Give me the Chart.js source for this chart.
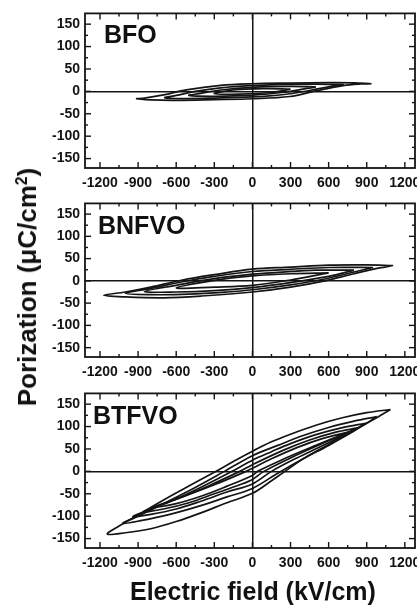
<!DOCTYPE html>
<html>
<head>
<meta charset="utf-8">
<title>P-E hysteresis loops</title>
<script src="https://cdn.jsdelivr.net/npm/chart.js@4.4.1/dist/chart.umd.min.js"></script>
<style>
  html, body { margin: 0; padding: 0; background: #fff; }
  body { width: 417px; height: 605px; position: relative; overflow: hidden;
         font-family: "Liberation Sans", Arial, sans-serif; color: #111; }
  canvas { position: absolute; left: 0; }
  .lbl { position: absolute; font-weight: bold; font-size: 25px; line-height: 1; white-space: nowrap; }
  #ytitle { font-size: 26px; left: 27px; top: 287px; transform: translate(-50%, -50%) rotate(-90deg); }
  #xtitle { left: 130px; top: 579px; }
  .sup { font-size: 0.6em; position: relative; top: -0.55em; }
</style>
</head>
<body>
<canvas id="c1" width="417" height="192" style="top:0px"></canvas>
<canvas id="c2" width="417" height="192" style="top:190px"></canvas>
<canvas id="c3" width="417" height="190" style="top:380px"></canvas>

<div class="lbl" style="left:104px;top:22px">BFO</div>
<div class="lbl" style="left:98px;top:213px">BNFVO</div>
<div class="lbl" style="left:93px;top:403px">BTFVO</div>
<div class="lbl" id="ytitle">Porization (μC/cm<span class="sup">2</span>)</div>
<div class="lbl" id="xtitle">Electric field (kV/cm)</div>

<script>
'use strict';

/* ---- axis ticks ---- */
const X_TICKS = [-1200, -900, -600, -300, 0, 300, 600, 900, 1200];
const X_MINOR = [-1050, -750, -450, -150, 150, 450, 750, 1050];
const Y_TICKS = [-150, -100, -50, 0, 50, 100, 150];
const Y_MINOR = [-125, -75, -25, 25, 75, 125];

/* ---- loops: [E (kV/cm), P (uC/cm2)] ---- */
// BFO
const bfo1 = [[938,17],[800,19],[600,19.5],[300,18.5],[0,17],[-250,13.5],[-520,3.5],[-700,-8],[-850,-15],[-911,-16.5],
              [-800,-19],[-620,-20],[-300,-18.5],[0,-16.5],[295,-11.5],[505,1.5],[715,13],[850,16.5],[938,17]];
const bfo2 = [[720,15],[500,16],[200,15],[0,13],[-250,8],[-450,0],[-600,-9],[-690,-14],
              [-550,-16],[-300,-15],[0,-12.5],[250,-7],[450,2],[600,10],[720,15]];
const bfo3 = [[500,10],[300,11],[0,9],[-250,3],[-420,-5],[-500,-9],
              [-300,-11],[0,-8.5],[250,-2],[420,6],[500,10]];
const bfo4 = [[300,5],[100,6],[-150,3],[-300,-5],[-100,-6],[150,-2],[300,5]];
// BNFVO
const bnf1 = [[1108,34.5],[900,36],[600,35.5],[300,31],[0,26.5],[-300,14],[-550,2],[-800,-14],[-1000,-25],[-1170,-32.3],
              [-1000,-36],[-700,-38],[-400,-34],[0,-25],[300,-14],[570,0],[800,16],[1000,29],[1108,34.5]];
const bnf2 = [[950,30],[600,30],[300,26],[0,21],[-300,10],[-550,-2],[-800,-17],[-1000,-28],
              [-800,-31],[-500,-30],[-200,-25],[0,-20],[300,-9],[550,3],[800,20],[950,30]];
const bnf3 = [[800,24],[500,24],[200,19],[0,15],[-300,5],[-600,-10],[-850,-24],
              [-600,-25],[-300,-22],[0,-15],[300,-4],[600,10],[800,24]];
const bnf4 = [[600,18],[300,16],[0,11],[-300,1],[-600,-16],[-300,-14],[0,-10],[300,2],[600,18]];
// BTFVO
const btf1 = [[1087,138],[900,131],[700,119],[500,103],[300,83],[150,66],[0,45],[-150,22],[-282,1],[-450,-25],[-675,-60],[-900,-97],[-1050,-122],[-1142,-140],
              [-1000,-137],[-800,-128],[-600,-112],[-400,-92],[-200,-70],[0,-49],[130,-25],[256,0],[400,28],[600,60],[800,92],[950,115],[1087,138]];
const btf2 = [[980,122],[800,112],[600,98],[400,80],[200,58],[0,35],[-220,0],[-450,-36],[-700,-72],[-900,-100],[-1020,-116],
              [-880,-110],[-650,-96],[-400,-76],[-200,-57],[0,-38],[200,-4],[400,28],[600,58],[800,90],[980,122]];
const btf3 = [[900,108],[700,97],[500,82],[300,62],[150,44],[0,25],[-160,0],[-400,-35],[-650,-68],[-850,-90],[-940,-101],
              [-800,-96],[-600,-84],[-400,-66],[-200,-46],[0,-28],[150,0],[350,30],[550,57],[750,85],[900,108]];
const btf4 = [[830,97],[650,87],[450,70],[250,48],[0,15],[-100,0],[-350,-33],[-600,-62],[-860,-90],
              [-700,-84],[-500,-70],[-300,-50],[-100,-30],[0,-18],[90,0],[300,30],[550,62],[830,97]];
const btf5 = [[760,88],[550,73],[350,53],[150,28],[0,7],[-50,0],[-300,-30],[-550,-57],[-780,-80],
              [-600,-72],[-400,-55],[-200,-33],[0,-9],[40,0],[250,28],[500,58],[760,88]];

const INK = '#141414';
const FONT = 'Liberation Sans, Arial, sans-serif';

/* ---- inward ticks + frame, placed through the chart's scales ---- */
const framePlugin = {
  id: 'frame',
  afterDraw(chart){
    const { ctx, chartArea: a, scales: { x, y } } = chart;
    ctx.save();
    ctx.strokeStyle = INK;
    ctx.lineWidth = 1.4;
    const seg = (x0, y0, x1, y1) => { ctx.beginPath(); ctx.moveTo(x0, y0); ctx.lineTo(x1, y1); ctx.stroke(); };
    const xt = (v, len) => { const p = x.getPixelForValue(v); seg(p, a.bottom, p, a.bottom - len); seg(p, a.top, p, a.top + len); };
    const yt = (v, len) => { const p = y.getPixelForValue(v); seg(a.left, p, a.left + len, p); seg(a.right, p, a.right - len, p); };
    X_TICKS.forEach(v => xt(v, 6)); X_MINOR.forEach(v => xt(v, 3));
    Y_TICKS.forEach(v => yt(v, 6)); Y_MINOR.forEach(v => yt(v, 3));
    ctx.lineWidth = 1.8;
    ctx.strokeRect(a.left, a.top, a.right - a.left, a.bottom - a.top);
    ctx.restore();
  }
};

function mkPanel(id, loops, padTop, xHeight){
  const zeroGrid = {
    drawTicks: false,
    lineWidth: 1.5,
    color: (c) => (c.tick && c.tick.value === 0) ? INK : 'rgba(0,0,0,0)',
  };
  const tickFont = { family: FONT, size: 14, weight: 'bold' };
  return new Chart(document.getElementById(id), {
    type: 'scatter',
    data: {
      datasets: loops.map(l => ({
        data: l.map(p => ({ x: p[0], y: p[1] })),
        showLine: true, borderColor: INK, borderWidth: 1.7,
        pointRadius: 0, tension: 0.35, fill: false,
      })),
    },
    options: {
      responsive: false, animation: false, events: [],
      layout: { padding: { top: padTop, right: 2, left: 0, bottom: 0 } },
      plugins: { legend: { display: false }, tooltip: { enabled: false } },
      scales: {
        x: {
          type: 'linear', min: -1318, max: 1280,
          afterBuildTicks: (s) => { s.ticks = X_TICKS.map(v => ({ value: v })); },
          afterFit: (s) => { s.height = xHeight; s.paddingLeft = 0; s.paddingRight = 0; },
          ticks: { autoSkip: false, maxRotation: 0, padding: 7, color: INK, font: tickFont,
                   callback: (v) => String(v) },
          grid: zeroGrid, border: { display: false },
        },
        y: {
          type: 'linear', min: -171, max: 174,
          afterBuildTicks: (s) => { s.ticks = Y_TICKS.map(v => ({ value: v })); },
          afterFit: (s) => { s.width = 85; },
          ticks: { autoSkip: false, padding: 5, color: INK, font: tickFont,
                   callback: (v) => String(v) },
          grid: zeroGrid, border: { display: false },
        },
      },
    },
    plugins: [framePlugin],
  });
}

mkPanel('c1', [bfo1, bfo2, bfo3, bfo4], 8, 24);
mkPanel('c2', [bnf1, bnf2, bnf3, bnf4], 8, 25);
mkPanel('c3', [btf1, btf2, btf3, btf4, btf5], 9, 22);
</script>
</body>
</html>
